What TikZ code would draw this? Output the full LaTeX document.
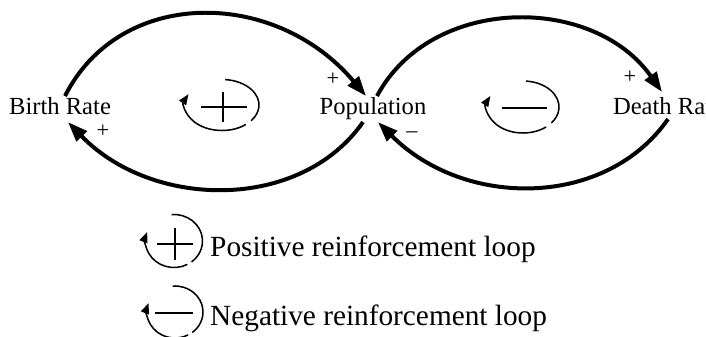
\documentclass[tikz,border=0pt]{standalone}
\usepackage{fontspec}
\setmainfont{Liberation Serif}
\usetikzlibrary{arrows.meta}

\begin{document}
\begin{tikzpicture}[x=0.03cm, y=0.03cm,
    var/.style={font=\fontsize{21}{24}\selectfont, inner sep=1pt, text height=15pt, text depth=4pt, anchor=base},
    link/.style={line width=3.4pt, -{Triangle[length=17pt,width=12pt]}},
    polarity/.style={font=\fontsize{19}{22}\selectfont, inner sep=0pt},
    loopline/.style={line width=1.3pt},
    looptip/.style={loopline, -{Triangle[length=9pt,width=7pt]}},
    signline/.style={line width=1.8pt},
    legend/.style={font=\fontsize{25}{30}\selectfont, anchor=base west, inner sep=0pt}]
    \useasboundingbox (0,0) rectangle (706,336);

    % Variables
    \node[var] (birth) at (60,221) {Birth Rate};
    \node[var] (pop) at (373,221) {Population};
    \node[var] (death) at (668,221) {Death Rate};

    % Left loop
    \draw[link] ([shift={(5,0)}]birth.north) .. controls +(55,109) and +(-91,108) .. ([shift={(-7,0)}]pop.north);
    \draw[link] ([shift={(-10,-1)}]pop.south) .. controls +(-63,-90) and +(84,-87) .. ([shift={(8,-1)}]birth.south);

    % Right loop
    \draw[link] ([shift={(4,0)}]pop.north) .. controls +(54,101) and +(-69,98) .. ([shift={(-6,4)}]death.north);
    \draw[link] ([shift={(0,2)}]death.south) .. controls +(-62,-89) and +(87,-87) .. ([shift={(5,-1)}]pop.south);

    % Polarities
    \node[polarity] (plusbp) at (333,257) {+};
    \node[polarity] (plusbb) at (103,205) {+};
    \node[polarity] (minuspp) at (412,201) {--};
    \node[polarity] (pluspd) at (630,259) {+};

    % Loop signs
    \draw[loopline] (222,231) ++(85:37 and 25.5) arc[start angle=85, end angle=-38, x radius=37, y radius=25.5];
    \draw[looptip] (222,231) ++(-50:37 and 25.5) arc[start angle=-50, end angle=-205, x radius=37, y radius=25.5];
    \draw[signline] (201,229) -- (247,229) (223,214) -- (223,244);

    \draw[loopline] (523,229) ++(85:36 and 26) arc[start angle=85, end angle=-38, x radius=36, y radius=26];
    \draw[looptip] (523,229) ++(-50:36 and 26) arc[start angle=-50, end angle=-205, x radius=36, y radius=26];
    \draw[signline] (502,228) -- (547,228);

    % Legend
    \draw[loopline] (174,95) ++(95:28.5 and 26.5) arc[start angle=95, end angle=-52, x radius=28.5, y radius=26.5];
    \draw[looptip] (174,95) ++(-62:28.5 and 26.5) arc[start angle=-62, end angle=-200, x radius=28.5, y radius=26.5];
    \draw[signline] (157,92) -- (193,92) (175,76) -- (175,108);
    \node[legend] (posloop) at (210,80) {Positive reinforcement loop};

    \draw[loopline] (175,24) ++(95:28 and 26) arc[start angle=95, end angle=-52, x radius=28, y radius=26];
    \draw[looptip] (175,24) ++(-62:28 and 26) arc[start angle=-62, end angle=-200, x radius=28, y radius=26];
    \draw[signline] (155,23) -- (193,23);
    \node[legend] (negloop) at (210,11) {Negative reinforcement loop};
\end{tikzpicture}
\end{document}
